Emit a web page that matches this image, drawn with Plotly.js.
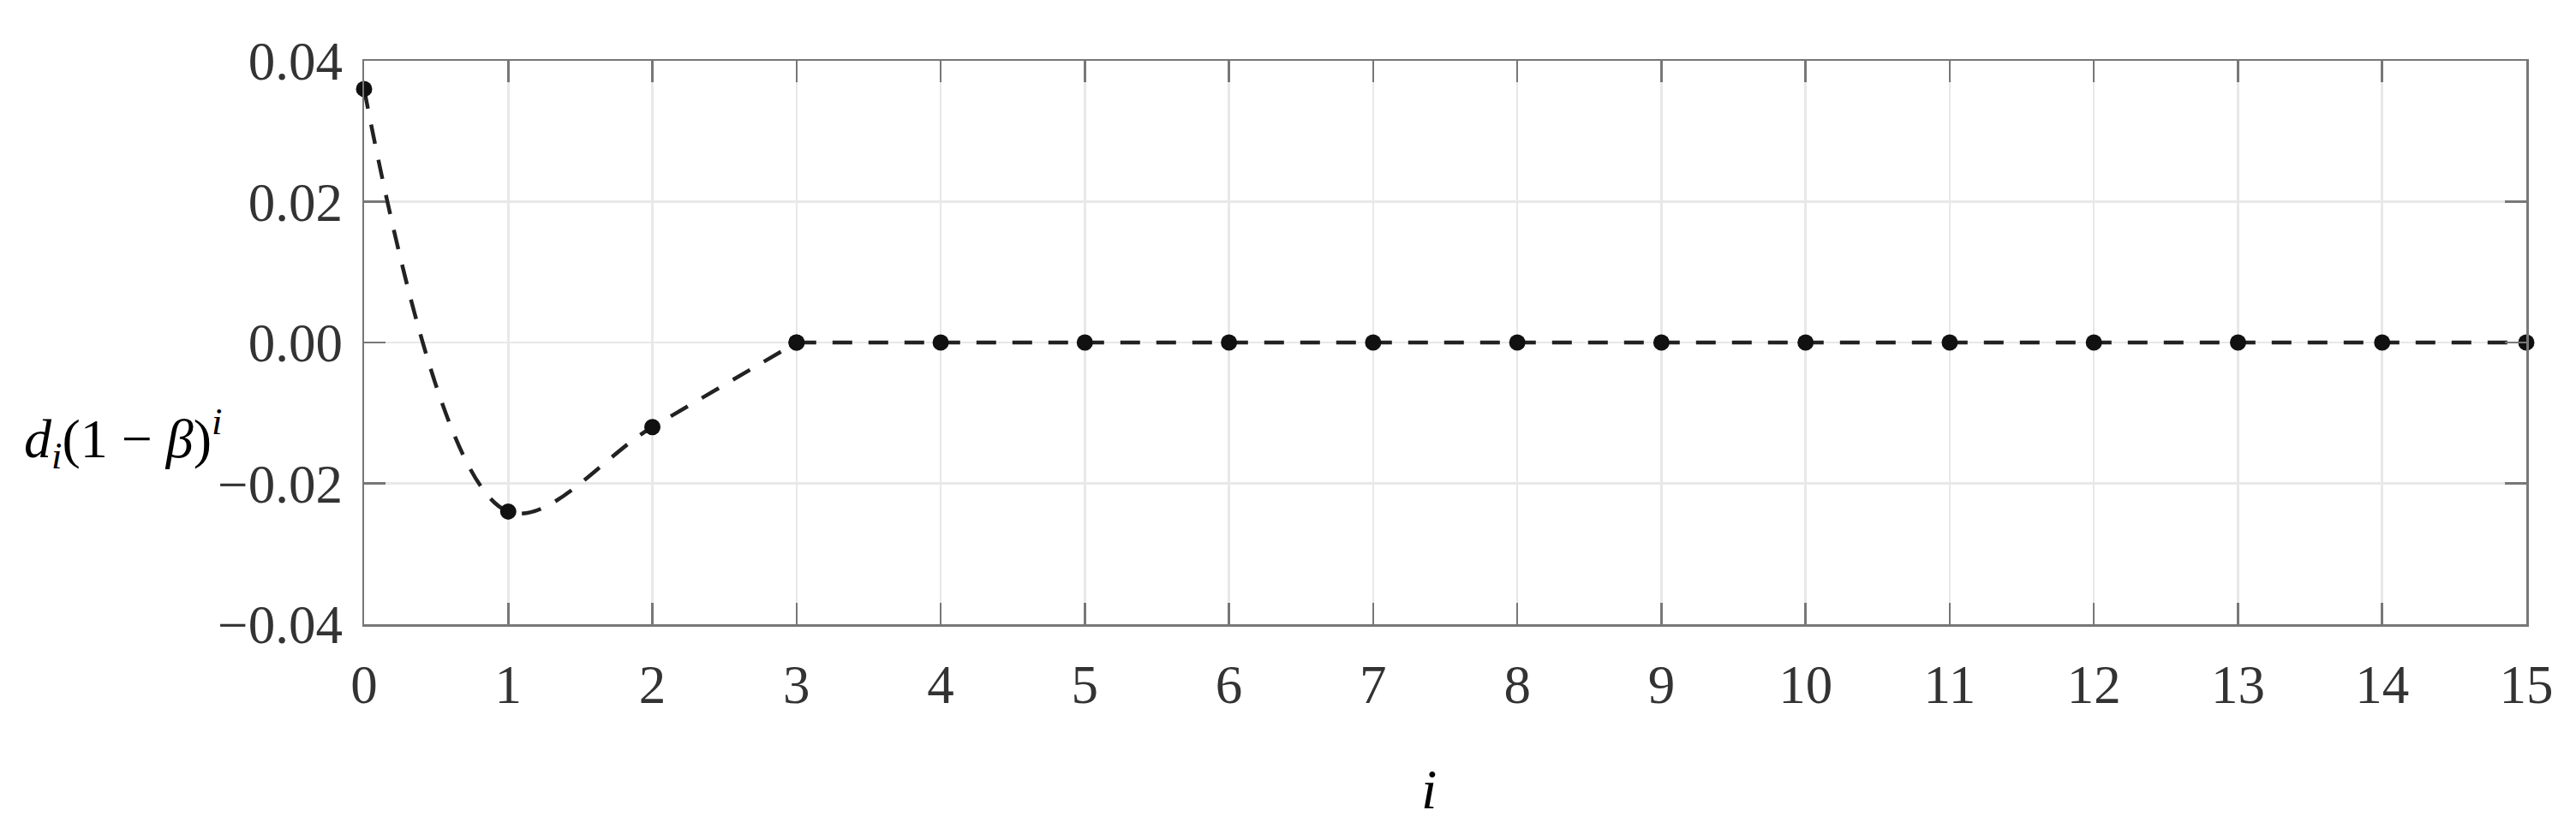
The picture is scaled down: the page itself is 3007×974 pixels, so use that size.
<!DOCTYPE html>
<html>
<head>
<meta charset="utf-8">
<script src="https://cdn.plot.ly/plotly-3.0.1.min.js"></script>
<style>
  html, body { margin: 0; padding: 0; background: #fff; }
  #chart { width: 3007px; height: 974px; }
</style>
</head>
<body>
<div id="chart"></div>
<script>
const steps = [0, 1, 2, 3, 4, 5, 6, 7, 8, 9, 10, 11, 12, 13, 14, 15];
const values = [0.036, -0.024, -0.012, 0, 0, 0, 0, 0, 0, 0, 0, 0, 0, 0, 0, 0];
const xTicks = [0, 1, 2, 3, 4, 5, 6, 7, 8, 9, 10, 11, 12, 13, 14, 15];
const yTicks = [-0.04, -0.02, 0, 0.02, 0.04];

// the curve is smooth up to i = 3 and flat after it
const bend = 3;

const serif = 'Liberation Serif, Times New Roman, serif';

const axisCommon = {
    showline: true,
    linecolor: '#777',
    linewidth: 2.5,
    mirror: 'ticks',
    ticks: 'inside',
    ticklen: 25,
    tickwidth: 2.5,
    tickcolor: '#777',
    showgrid: true,
    gridcolor: '#e8e8e8',
    gridwidth: 2.5,
    zeroline: false,
    tickfont: { family: serif, size: 63, color: '#333' }
};

const lineStyle = { color: '#222', width: 4.5, dash: '23px,19px' };
const markerStyle = { color: '#111', size: 19 };

const curved = {
    x: steps.slice(0, bend + 1),
    y: values.slice(0, bend + 1),
    type: 'scatter',
    mode: 'lines+markers',
    line: Object.assign({}, lineStyle, { shape: 'spline', smoothing: 1 }),
    marker: markerStyle,
    cliponaxis: false,
    hoverinfo: 'skip'
};

const flat = {
    x: steps.slice(bend),
    y: values.slice(bend),
    type: 'scatter',
    mode: 'lines+markers',
    line: lineStyle,
    marker: markerStyle,
    cliponaxis: false,
    hoverinfo: 'skip'
};

const layout = {
    width: 3007,
    height: 974,
    margin: { l: 425, r: 58, t: 71, b: 245 },
    paper_bgcolor: '#fff',
    plot_bgcolor: '#fff',
    showlegend: false,
    xaxis: Object.assign({}, axisCommon, {
        range: [0, 15],
        tickvals: xTicks,
        ticktext: xTicks.map(String),
        ticklabelstandoff: 14
    }),
    yaxis: Object.assign({}, axisCommon, {
        range: [-0.04, 0.04],
        tickvals: yTicks,
        ticktext: yTicks.map(v => v.toFixed(2).replace('-', '\u2212')),
        ticklabelstandoff: 10
    }),
    annotations: [{
        xref: 'paper', yref: 'paper',
        x: 0, y: 0.33,
        xanchor: 'right', yanchor: 'middle',
        xshift: -163,
        showarrow: false,
        text: '<i>d</i><sub><i>i</i></sub>(1 \u2212 <i>\u03b2</i>)<sup><i>i</i></sup>',
        font: { family: serif, size: 64, color: '#000' }
    }, {
        xref: 'paper', yref: 'paper',
        x: 0.5, y: 0,
        xanchor: 'center', yanchor: 'middle',
        xshift: -19, yshift: -192,
        showarrow: false,
        text: '<i>i</i>',
        font: { family: serif, size: 66, color: '#000' }
    }]
};

Plotly.newPlot('chart', [curved, flat], layout, { staticPlot: true, displayModeBar: false });
</script>
</body>
</html>
